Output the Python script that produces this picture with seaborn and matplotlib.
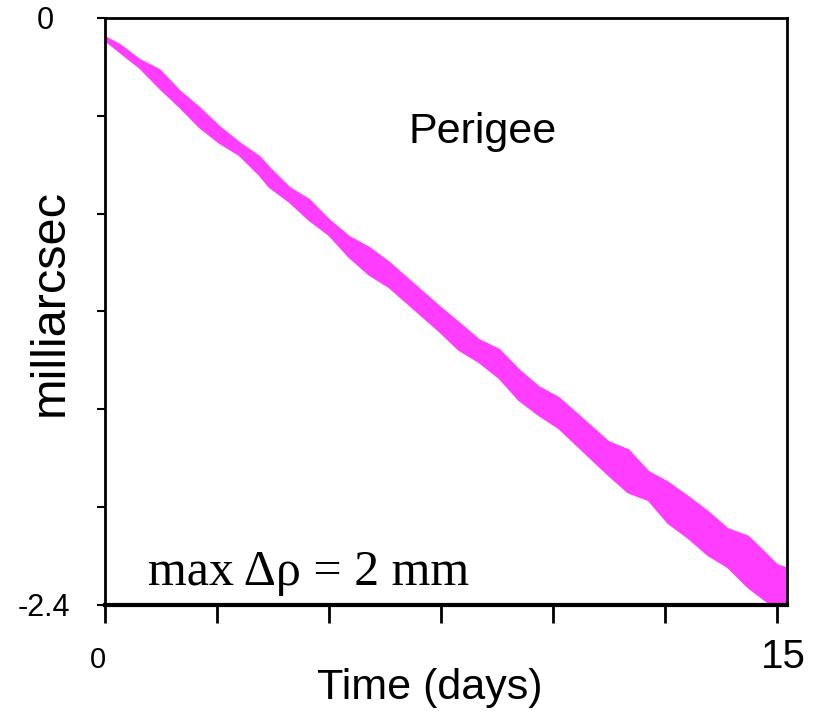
import numpy as np
import matplotlib
matplotlib.use("Agg")
import matplotlib.pyplot as plt
import matplotlib.transforms as mtransforms
import seaborn as sns
import pandas as pd

# values (band edges, milliarcsec vs days)
days = [0.0, 0.33, 0.78, 1.22, 1.67, 2.11, 2.56, 3.0, 3.45, 3.67, 4.12, 4.56,
        5.0, 5.45, 5.9, 6.34, 7.46, 7.9, 8.35, 8.8, 9.24, 9.68, 10.13, 11.24,
        11.68, 12.13, 12.57, 13.02, 13.46, 13.9, 14.35, 14.8, 15.0, 15.2]
upper = [-0.078, -0.110, -0.172, -0.213, -0.300, -0.368, -0.446, -0.511, -0.568,
         -0.613, -0.695, -0.744, -0.826, -0.895, -0.940, -1.000, -1.180, -1.247,
         -1.317, -1.357, -1.440, -1.509, -1.554, -1.734, -1.767, -1.856, -1.900,
         -1.959, -2.020, -2.090, -2.120, -2.200, -2.237, -2.250]
lower = [-0.090, -0.139, -0.204, -0.286, -0.364, -0.446, -0.511, -0.560, -0.642,
         -0.691, -0.752, -0.826, -0.887, -0.977, -1.050, -1.100, -1.280, -1.357,
         -1.407, -1.472, -1.562, -1.623, -1.677, -1.869, -1.940, -1.971, -2.065,
         -2.126, -2.196, -2.245, -2.327, -2.390, -2.430, -2.440]

y_ticks = [0, -0.4, -0.8, -1.2, -1.6, -2.0, -2.4]
y_ticklabels = ["0", "", "", "", "", "", "-2.4"]
x_ticks = [0, 2.5, 5, 7.5, 10, 12.5, 15]
x_ticklabels = ["0", "", "", "", "", "", "15"]

BAND = "#FF3DFF"

sns.set_theme(style="white")
plt.rcParams["font.family"] = ["Liberation Sans", "DejaVu Sans"]
plt.rcParams["text.color"] = "black"
plt.rcParams["axes.labelcolor"] = "black"
plt.rcParams["xtick.color"] = "black"
plt.rcParams["ytick.color"] = "black"

df = pd.DataFrame({"days": days, "upper": upper, "lower": lower})

fig = plt.figure(figsize=(8.21, 7.14), dpi=100)
ax = fig.add_axes([0.1279, 0.1527, 0.8307, 0.8221])

ax.fill_between(df["days"], df["lower"], df["upper"], color=BAND, lw=0)
sns.lineplot(data=df, x="days", y="upper", color=BAND, lw=1.5, ax=ax)
sns.lineplot(data=df, x="days", y="lower", color=BAND, lw=1.5, ax=ax)

ax.set_xlim(0, 15.22)
ax.set_ylim(-2.4, 0)

ax.set_yticks(y_ticks)
ax.set_yticklabels(y_ticklabels, fontsize=22)
ax.set_xticks(x_ticks)
ax.set_xticklabels(x_ticklabels)
ax.tick_params(axis="y", direction="out", length=6, width=1.5, pad=8, left=True, color="black")
ax.tick_params(axis="x", direction="out", length=13, width=2, pad=11, bottom=True, color="black")

# the two x labels differ in size in the original
xl = ax.get_xticklabels()
xl[0].set_fontsize(21)
xl[-1].set_fontsize(29)
xl[0].set_transform(xl[0].get_transform() + mtransforms.ScaledTranslation(-0.07, -0.08, fig.dpi_scale_trans))
xl[-1].set_transform(xl[-1].get_transform() + mtransforms.ScaledTranslation(0.06, 0, fig.dpi_scale_trans))
# y labels sit further left than the ticks
yl = ax.get_yticklabels()
yl[0].set_transform(yl[0].get_transform() + mtransforms.ScaledTranslation(-0.32, 0, fig.dpi_scale_trans))
yl[-1].set_transform(yl[-1].get_transform() + mtransforms.ScaledTranslation(-0.15, 0, fig.dpi_scale_trans))

for name, sp in ax.spines.items():
    sp.set_visible(True)
    sp.set_color("black")
    sp.set_linewidth(2)
ax.spines["bottom"].set_linewidth(3)

ax.set_xlabel("Time (days)", fontsize=31)
ax.set_ylabel("milliarcsec", fontsize=35)
ax.xaxis.label.set_va("center")
ax.yaxis.label.set_va("center")
ax.xaxis.set_label_coords(0.476, -0.141)
ax.yaxis.set_label_coords(-0.08, 0.516)

ax.text(0.553, 0.806, "Perigee", transform=ax.transAxes, fontsize=31,
        ha="center", va="center")
ax.text(0.298, 0.055, "max \u0394\u03c1 = 2 mm", transform=ax.transAxes,
        fontsize=36, ha="center", va="center", family=["Liberation Serif", "DejaVu Serif"])

fig.savefig("out.png", dpi=100)
